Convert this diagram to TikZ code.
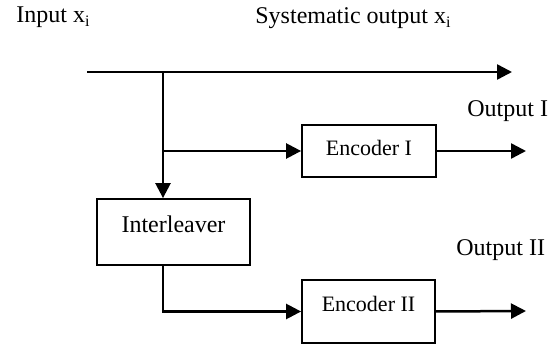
\documentclass[tikz,border=0pt]{standalone}
\usepackage{fontspec}
\setmainfont{Liberation Serif}
\usetikzlibrary{arrows.meta}
\tikzset{
	flow/.style={line width=1.25pt, -{Triangle[length=7.5pt,width=7.5pt]}},
	block/.style={draw, line width=0.9pt, inner sep=0pt, anchor=base},
	lbl/.style={anchor=base west, inner sep=0pt, font=\fontsize{12}{14}\selectfont}
}

\begin{document}
\begin{tikzpicture}[x=0.5pt, y=-0.5pt]
		%%%%% START %%%%%
		\useasboundingbox (0, 0) rectangle (558, 347);
		
		\node[lbl] (intxt) at (16, 23) {Input x\textsubscript{i}};
		\node[lbl] (systxt) at (255, 24) {Systematic output x\textsubscript{i}};
		\node[lbl] (out1txt) at (467, 117) {Output I};
		\node[lbl] (out2txt) at (456, 256) {Output II};
		
		\node[block, minimum width=67pt, text height=15.5pt, text depth=10.5pt, font=\fontsize{11}{13}\selectfont] (enc1) at (369, 156) {Encoder I};
		\node[block, minimum width=76.5pt, text height=17pt, text depth=16pt, font=\fontsize{12}{14}\selectfont] (intl) at (173.5, 233) {Interleaver};
		\node[block, minimum width=66.5pt, text height=16pt, text depth=15.5pt, font=\fontsize{11}{13}\selectfont] (enc2) at (368.5, 312) {Encoder II};
		
		\coordinate (in) at (87, 72);
		\coordinate (split) at (163, 72);
		\coordinate (sysout) at (512, 72);
		\coordinate (out1) at (526, 151);
		\coordinate (out2) at (526, 311);
		
		\draw[flow] (in) -- (sysout);
		\draw[flow] (split) -- (split |- intl.north);
		\draw[flow] (split |- enc1.west) -- (enc1.west);
		\draw[flow] (enc1.east) -- (out1);
		\draw[flow] (split |- intl.south) |- (enc2.west);
		\draw[flow] (enc2.east) -- (out2);
		
		%%%%% END %%%%%
	\end{tikzpicture}
\end{document}
